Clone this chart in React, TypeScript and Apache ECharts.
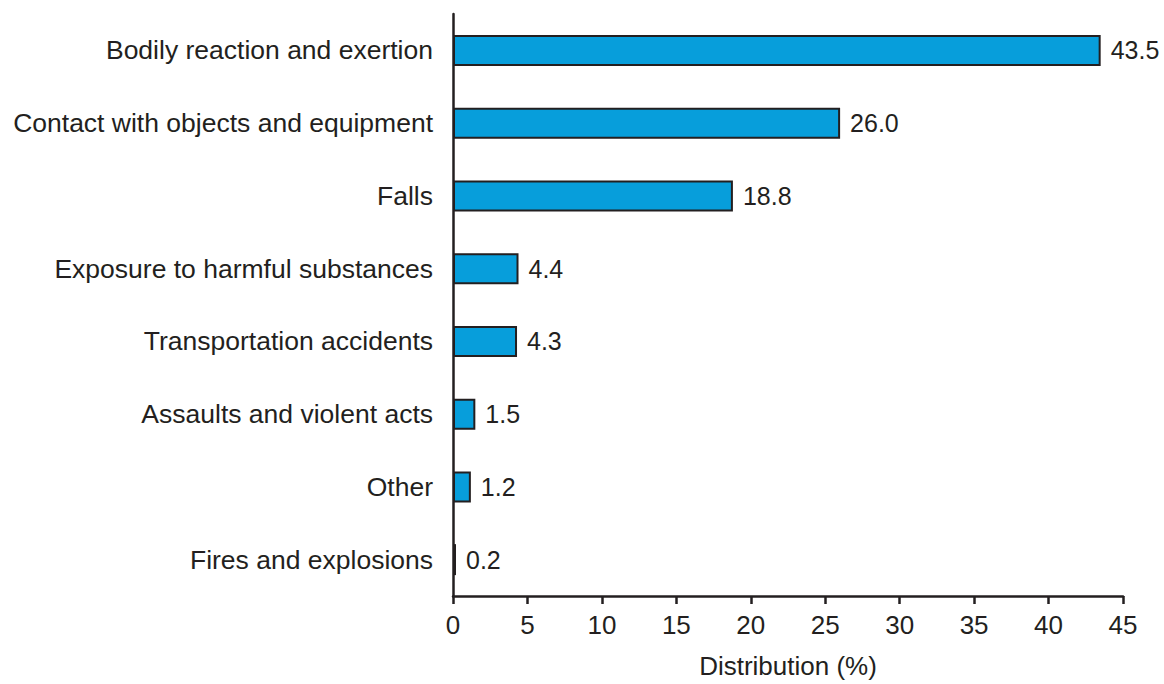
import React, { useEffect, useRef } from "react";
import * as echarts from "echarts";

const categories = [
  "Bodily reaction and exertion",
  "Contact with objects and equipment",
  "Falls",
  "Exposure to harmful substances",
  "Transportation accidents",
  "Assaults and violent acts",
  "Other",
  "Fires and explosions",
];
const values = [43.5, 26.0, 18.8, 4.4, 4.3, 1.5, 1.2, 0.2];
const xTicks = [0, 5, 10, 15, 20, 25, 30, 35, 40, 45];

const FONT = "'Liberation Sans', Arial, Helvetica, sans-serif";
const TEXT = "#231f20";
const FS = 26;

export default function App() {
  const ref = useRef<HTMLDivElement>(null);
  useEffect(() => {
    document.body.style.margin = "0";
    const chart = echarts.init(ref.current!, null, { renderer: "svg" });
    chart.setOption({
      animation: false,
      backgroundColor: "#ffffff",
      grid: { left: 453, right: 41, top: 14, height: 582, containLabel: false },
      xAxis: {
        type: "value",
        min: xTicks[0],
        max: xTicks[xTicks.length - 1],
        interval: 5,
        name: "Distribution (%)",
        nameLocation: "middle",
        nameGap: 57,
        nameTextStyle: { fontFamily: FONT, fontSize: FS, color: TEXT },
        axisLine: { show: true, lineStyle: { color: TEXT, width: 2.5 } },
        axisTick: { show: true, length: 8, lineStyle: { color: TEXT, width: 2.5 } },
        axisLabel: { fontFamily: FONT, fontSize: FS, color: TEXT, margin: 16 },
        splitLine: { show: false },
      },
      yAxis: {
        type: "category",
        inverse: true,
        data: categories,
        axisLine: { show: true, lineStyle: { color: TEXT, width: 2.5 } },
        axisTick: { show: false },
        axisLabel: { fontFamily: FONT, fontSize: 26.5, color: TEXT, margin: 20 },
      },
      series: [
        {
          type: "bar",
          data: values,
          barWidth: 31,
          itemStyle: { color: "#079edb", borderColor: TEXT, borderWidth: 2 },
          label: {
            show: true,
            position: "right",
            distance: 10,
            fontFamily: FONT,
            fontSize: 25,
            color: TEXT,
            formatter: (p: any) => Number(p.value).toFixed(1),
          },
        },
      ],
    });
    return () => chart.dispose();
  }, []);
  return (
    <div
      ref={ref}
      style={{ position: "fixed", left: 0, top: 0, width: 1164, height: 684 }}
    />
  );
}
